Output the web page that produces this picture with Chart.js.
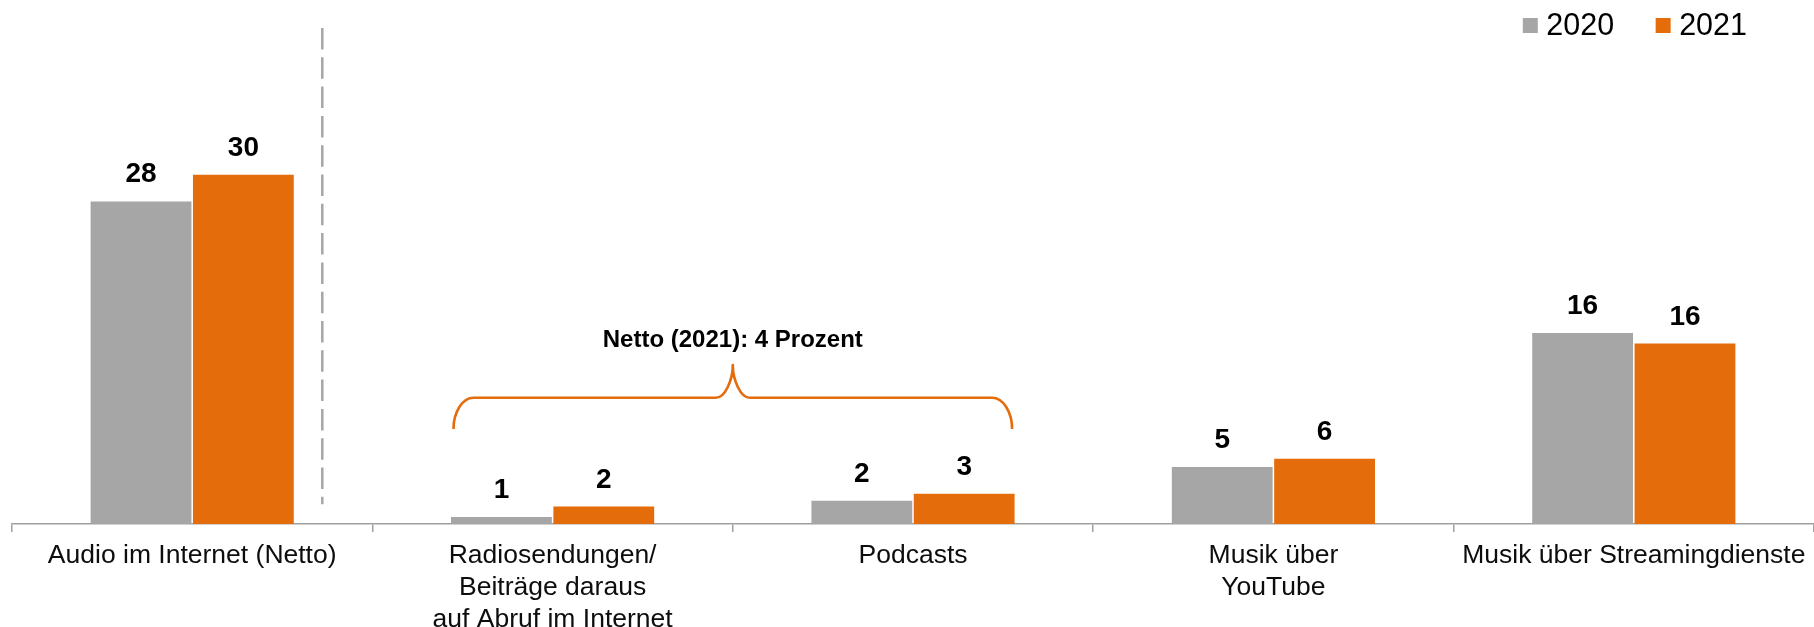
<!DOCTYPE html>
<html>
<head>
<meta charset="utf-8">
<script src="https://cdn.jsdelivr.net/npm/chart.js@4.4.1/dist/chart.umd.min.js"></script>
<style>
  html, body { margin: 0; padding: 0; background: #ffffff; }
  #wrap { width: 1814px; height: 627px; position: relative; }
  canvas { display: block; }
</style>
</head>
<body>
<div id="wrap"><canvas id="chart" width="1814" height="627"></canvas></div>
<script>
// ---- data ----
const categories = [
  ['Audio im Internet (Netto)'],
  ['Radiosendungen/', 'Beiträge daraus', 'auf Abruf im Internet'],
  ['Podcasts'],
  ['Musik über', 'YouTube'],
  ['Musik über Streamingdienste']
];
const seriesNames = ['2020', '2021'];
const values2020 = [27.7, 0.6, 2.0, 4.9, 16.4];
const values2021 = [30.0, 1.5, 2.6, 5.6, 15.5];
const labels2020 = ['28', '1', '2', '5', '16'];
const labels2021 = ['30', '2', '3', '6', '16'];
const nettoText = 'Netto (2021): 4 Prozent';
// annotation anchors in data units
const braceCenterCat = 1.5, braceHalfWidthCat = 0.775;
const braceEndValue = 8.15, braceLineValue = 10.84, braceTipValue = 13.65, nettoTextValue = 15.2;
const dividerCatOffset = 0.361, dividerBottomValue = 1.7;
const yMax = 42.6;

const GRAY = '#A6A6A6';
const ORANGE = '#E46C0A';
const FONT = '"Liberation Sans", Arial, Helvetica, sans-serif';

const decorPlugin = {
  id: 'decor',
  afterDatasetsDraw(chart) {
    const ctx = chart.ctx;
    const xs = chart.scales.x, ys = chart.scales.y;
    const p0 = xs.getPixelForValue(0);
    const unit = xs.getPixelForValue(1) - p0;
    ctx.save();

    // value labels
    const labelSets = [labels2020, labels2021];
    ctx.font = 'bold 28px ' + FONT;
    ctx.fillStyle = '#000000';
    ctx.textAlign = 'center';
    ctx.textBaseline = 'alphabetic';
    chart.data.datasets.forEach((ds, di) => {
      const meta = chart.getDatasetMeta(di);
      meta.data.forEach((bar, i) => {
        ctx.fillText(labelSets[di][i], bar.x, bar.y - 19);
      });
    });

    // dashed divider
    const dx = p0 + dividerCatOffset * unit;
    ctx.beginPath();
    ctx.setLineDash([21.5, 7.8]);
    ctx.strokeStyle = GRAY;
    ctx.lineWidth = 2.5;
    ctx.moveTo(dx, chart.chartArea.top);
    ctx.lineTo(dx, ys.getPixelForValue(dividerBottomValue));
    ctx.stroke();
    ctx.setLineDash([]);

    // curly brace
    const cx = p0 + braceCenterCat * unit;
    const hw = braceHalfWidthCat * unit;
    const L = cx - hw, R = cx + hw;
    const yE = ys.getPixelForValue(braceEndValue);
    const yH = ys.getPixelForValue(braceLineValue);
    const yT = ys.getPixelForValue(braceTipValue);
    const rx = 20, k = 0.55, ry = yE - yH, mx = 17, my = yH - yT;
    ctx.beginPath();
    ctx.strokeStyle = ORANGE;
    ctx.lineWidth = 2.6;
    ctx.lineJoin = 'round';
    ctx.lineCap = 'butt';
    ctx.moveTo(L, yE);
    ctx.bezierCurveTo(L, yE - k * ry, L + rx - k * rx, yH, L + rx, yH);
    ctx.lineTo(cx - mx, yH);
    ctx.bezierCurveTo(cx - mx + k * mx, yH, cx, yH - k * my, cx, yT);
    ctx.bezierCurveTo(cx, yH - k * my, cx + mx - k * mx, yH, cx + mx, yH);
    ctx.lineTo(R - rx, yH);
    ctx.bezierCurveTo(R - rx + k * rx, yH, R, yE - k * ry, R, yE);
    ctx.stroke();

    // netto text
    ctx.font = 'bold 24px ' + FONT;
    ctx.fillStyle = '#000000';
    ctx.textAlign = 'center';
    ctx.fillText(nettoText, cx, ys.getPixelForValue(nettoTextValue));

    // legend (top right)
    ctx.font = '30.5px ' + FONT;
    ctx.textAlign = 'left';
    const box = 15, gapText = 8.5, gapItem = 41.5, rightMargin = 67;
    const items = chart.data.datasets.map(ds => ({ label: ds.label, color: ds.backgroundColor, w: ctx.measureText(ds.label).width }));
    let total = 0;
    items.forEach((it, i) => { total += box + gapText + it.w + (i < items.length - 1 ? gapItem : 0); });
    let x = chart.width - rightMargin - total;
    items.forEach(it => {
      ctx.fillStyle = it.color;
      ctx.fillRect(x, 18, box, box);
      ctx.fillStyle = '#000000';
      ctx.fillText(it.label, x + box + gapText, 35);
      x += box + gapText + it.w + gapItem;
    });
    ctx.restore();
  }
};

new Chart(document.getElementById('chart'), {
  type: 'bar',
  data: {
    labels: categories,
    datasets: [
      { label: seriesNames[0], data: values2020, backgroundColor: GRAY, borderWidth: 0, barPercentage: 0.985, categoryPercentage: 0.568 },
      { label: seriesNames[1], data: values2021, backgroundColor: ORANGE, borderWidth: 0, barPercentage: 0.985, categoryPercentage: 0.568 }
    ]
  },
  options: {
    responsive: false,
    animation: false,
    devicePixelRatio: 1,
    layout: { padding: { left: 12, right: 0, top: 28, bottom: 0 } },
    plugins: { legend: { display: false }, tooltip: { enabled: false } },
    scales: {
      x: {
        grid: { display: true, drawOnChartArea: false, drawTicks: true, tickLength: 8, color: '#A0A0A0', lineWidth: 1.5, offset: true },
        border: { display: true, color: '#A0A0A0', width: 1.5 },
        ticks: { color: '#0D0D0D', font: { family: FONT, size: 26.5, lineHeight: 1.2 }, padding: 8, maxRotation: 0, autoSkip: false },
        afterFit(scale) { scale.height = 103; }
      },
      y: { display: false, min: 0, max: yMax }
    }
  },
  plugins: [decorPlugin]
});
</script>
</body>
</html>
